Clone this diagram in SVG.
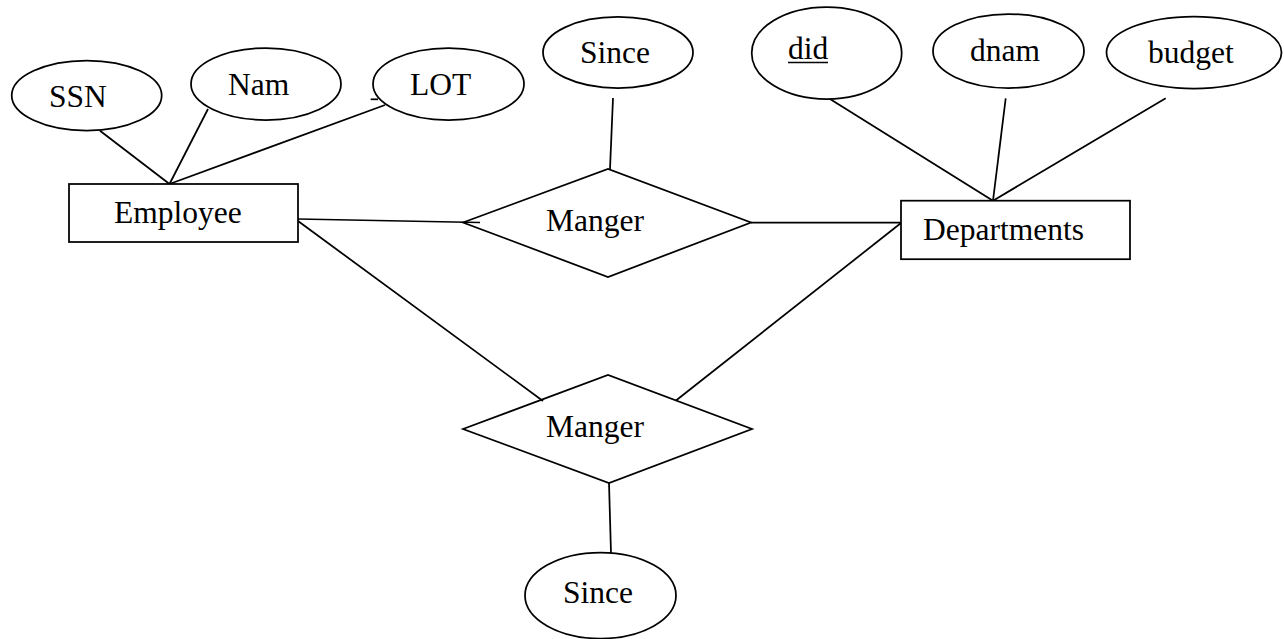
<svg xmlns="http://www.w3.org/2000/svg" width="1284" height="639" viewBox="0 0 1284 639">
<style>
.s{fill:#fff;stroke:#000;stroke-width:1.75}
.c line{stroke:#000;stroke-width:1.75}
text{font-family:"Liberation Serif","Times New Roman",serif;font-size:31.5px;fill:#000}
</style>
<rect width="1284" height="639" fill="#fff"/>
<g id="connectors" class="c">
<line x1="100" y1="130.7" x2="169.5" y2="184"/>
<line x1="208" y1="109" x2="169.5" y2="184"/>
<line x1="385" y1="105" x2="169.5" y2="184"/>
<line x1="830" y1="99" x2="993" y2="200.7"/>
<line x1="1005.7" y1="98.3" x2="993" y2="200.7"/>
<line x1="1165.7" y1="98.3" x2="993" y2="200.7"/>
<line x1="613" y1="98" x2="610" y2="169"/>
<line x1="298" y1="219" x2="480" y2="222.5"/>
<line x1="751" y1="222.5" x2="901" y2="222.5"/>
<line x1="298" y1="221" x2="543" y2="401"/>
<line x1="901" y1="223" x2="676" y2="400.5"/>
<line x1="609" y1="483" x2="611" y2="553"/>
<line x1="370.7" y1="99.3" x2="378" y2="99.3"/>
</g>
<g id="ssn"><ellipse class="s" cx="86.7" cy="95.5" rx="75" ry="35"/><text x="49" y="106.7">SSN</text></g>
<g id="nam"><ellipse class="s" cx="266" cy="84" rx="75" ry="36"/><text x="228" y="95">Nam</text></g>
<g id="lot"><ellipse class="s" cx="448.5" cy="84" rx="75.5" ry="36"/><text x="410" y="95">LOT</text></g>
<g id="since1"><ellipse class="s" cx="618" cy="52.5" rx="75" ry="35.5"/><text x="580" y="63.3">Since</text></g>
<g id="did"><ellipse class="s" cx="826.7" cy="53" rx="75" ry="46"/><text x="788" y="59.3">did</text><line x1="788" y1="62.5" x2="828" y2="62.5" stroke="#000" stroke-width="1.6"/></g>
<g id="dnam"><ellipse class="s" cx="1008.5" cy="51" rx="75.5" ry="37"/><text x="970" y="60.7">dnam</text></g>
<g id="budget"><ellipse class="s" cx="1194" cy="52.5" rx="87.5" ry="36"/><text x="1148" y="63.3">budget</text></g>
<g id="employee"><rect class="s" x="69" y="184" width="229" height="58"/><text x="114" y="223">Employee</text></g>
<g id="departments"><rect class="s" x="901" y="200.7" width="229" height="58.5"/><text x="923" y="240">Departments</text></g>
<g id="manger1"><polygon class="s" points="463,222.5 608,169 751,222.5 608,277" fill="none" style="fill:none"/><text x="546" y="230.5">Manger</text></g>
<g id="manger2"><polygon class="s" points="463,429 608,375 752,429 609,483" style="fill:none"/><text x="546" y="437.3">Manger</text></g>
<g id="since2"><ellipse class="s" cx="600.5" cy="595.5" rx="75.5" ry="43"/><text x="563" y="602.7">Since</text></g>
</svg>
